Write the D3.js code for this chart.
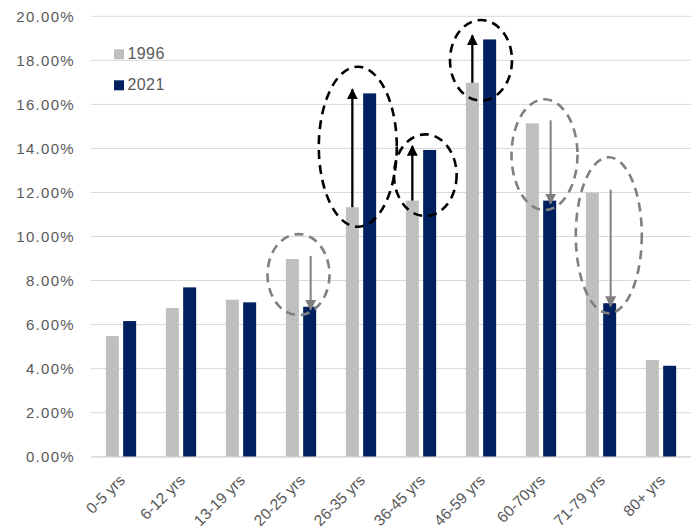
<!DOCTYPE html>
<html>
<head>
<meta charset="utf-8">
<script src="https://cdn.jsdelivr.net/npm/d3@7"></script>
<style>
  html, body { margin: 0; padding: 0; background: #fff; }
  svg { display: block; font-family: "Liberation Sans", Arial, Helvetica, sans-serif; }
</style>
</head>
<body>
<svg id="chart" width="697" height="529"></svg>
<script>
// Share of population by age band
const categories = ["0-5 yrs", "6-12 yrs", "13-19 yrs", "20-25 yrs", "26-35 yrs",
                    "36-45 yrs", "46-59 yrs", "60-70yrs", "71-79 yrs", "80+ yrs"];
const seriesNames = ["1996", "2021"];
const values1996 = [5.48, 6.75, 7.13, 8.98, 11.33, 11.63, 16.98, 15.14, 11.99, 4.39];
const values2021 = [6.16, 7.69, 7.01, 6.81, 16.50, 13.93, 18.95, 11.63, 6.97, 4.13];
const yTicks = [0, 2, 4, 6, 8, 10, 12, 14, 16, 18, 20];

// Highlighted changes: category, direction, ellipse extent (in %)
const annCategories = ["20-25 yrs", "26-35 yrs", "36-45 yrs", "46-59 yrs", "60-70yrs", "71-79 yrs"];
const annDirection  = ["down", "up", "up", "up", "down", "down"];
const annTop        = [10.11, 17.71, 14.64, 19.83, 16.23, 13.60];
const annBottom     = [6.43, 10.44, 10.93, 16.17, 11.20, 6.51];

// Ellipse horizontal placement (px offset from group centre, radius)
const annDx = [-2.5, -3.2, 4.3, 0, 3.5, 7.8];
const annRx = [31, 39, 31.3, 31, 33, 33];

const colors = { "1996": "#BFBFBF", "2021": "#002060" };
const upColor = "#000000", downColor = "#7F7F7F";

const svg = d3.select("#chart");
const plot = { left: 91, right: 691, top: 16.3, bottom: 456.7 };

const x0 = d3.scaleBand().domain(categories)
  .range([plot.left, plot.right]).paddingInner(0.495).paddingOuter(0.2475);
const x1 = d3.scaleBand().domain(seriesNames)
  .range([0, x0.bandwidth()]).paddingInner(0.25);
const y = d3.scaleLinear().domain([0, 20]).range([plot.bottom, plot.top]);

const rows = categories.map((c, i) => ({ cat: c, "1996": values1996[i], "2021": values2021[i] }));

// Gridlines
svg.append("g").selectAll("line").data(yTicks).join("line")
  .attr("x1", plot.left).attr("x2", plot.right)
  .attr("y1", d => y(d)).attr("y2", d => y(d))
  .attr("stroke", "#D9D9D9").attr("stroke-width", 1);

// Y axis labels
const yAxis = svg.append("g").attr("transform", `translate(${plot.left - 16},0)`)
  .call(d3.axisLeft(y).tickValues(yTicks).tickSize(0).tickPadding(0)
    .tickFormat(d => d.toFixed(2) + "%"));
yAxis.select(".domain").remove();
yAxis.selectAll("text").attr("fill", "#595959").style("font-size", "15px")
  .style("letter-spacing", "1.3px")
  .attr("font-family", "Liberation Sans, Arial, sans-serif");

// Bars
const groups = svg.append("g").selectAll("g").data(rows).join("g")
  .attr("transform", d => `translate(${x0(d.cat)},0)`);
groups.selectAll("rect").data(d => seriesNames.map(s => ({ s, v: d[s] }))).join("rect")
  .attr("x", d => x1(d.s)).attr("width", x1.bandwidth())
  .attr("y", d => y(d.v)).attr("height", d => y(0) - y(d.v))
  .attr("fill", d => colors[d.s]);

// X axis
const xAxis = svg.append("g").attr("transform", `translate(0,${plot.bottom})`)
  .call(d3.axisBottom(x0).tickSize(0).tickPadding(0));
xAxis.select(".domain").attr("stroke", "#D9D9D9");
xAxis.selectAll("text")
  .attr("fill", "#595959").style("font-size", "15.5px")
  .attr("font-family", "Liberation Sans, Arial, sans-serif")
  .attr("text-anchor", "end").attr("dy", null).attr("y", 0)
  .attr("transform", "translate(5,24.5) rotate(-45)");

// Arrowheads
const defs = svg.append("defs");
[["up", upColor], ["down", downColor]].forEach(([id, col]) => {
  defs.append("marker").attr("id", "head-" + id)
    .attr("viewBox", "0 0 10 10").attr("refX", 9).attr("refY", 5)
    .attr("markerUnits", "userSpaceOnUse")
    .attr("markerWidth", 11).attr("markerHeight", 11).attr("orient", "auto")
    .append("path").attr("d", "M0,0 L10,5 L0,10 Z").attr("fill", col);
});

// Annotations: change arrows and dashed ellipses
annCategories.forEach((c, k) => {
  const i = categories.indexOf(c);
  const up = annDirection[k] === "up";
  const col = up ? upColor : downColor;
  const from = values1996[i], to = values2021[i];
  const ax = x0(c) + x1(up ? "1996" : "2021") + x1.bandwidth() / 2 + (up ? 0 : 1);
  const y1 = y(from) + (up ? 0 : -3);
  const y2 = y(to) + (up ? -4 : 3);
  svg.append("line")
    .attr("x1", ax).attr("x2", ax).attr("y1", y1).attr("y2", y2)
    .attr("stroke", col).attr("stroke-width", up ? 2.3 : 2)
    .attr("marker-end", `url(#head-${up ? "up" : "down"})`);

  const cx = x0(c) + x0.bandwidth() / 2 + annDx[k];
  const cy = (y(annTop[k]) + y(annBottom[k])) / 2;
  const ry = (y(annBottom[k]) - y(annTop[k])) / 2;
  svg.append("ellipse")
    .attr("cx", cx).attr("cy", cy).attr("rx", annRx[k]).attr("ry", ry)
    .attr("fill", "none").attr("stroke", col).attr("stroke-width", 2.6)
    .attr("stroke-dasharray", "9,6");
});

// Legend
const legend = svg.append("g");
seriesNames.forEach((s, i) => {
  const ly = 49.3 + i * 31;
  legend.append("rect").attr("x", 114).attr("y", ly).attr("width", 10).attr("height", 10)
    .attr("fill", colors[s]);
  legend.append("text").attr("x", 127.5).attr("y", ly + 10)
    .attr("fill", "#595959").style("font-size", "16px").style("letter-spacing", "0.4px")
    .text(s);
});
</script>
</body>
</html>
